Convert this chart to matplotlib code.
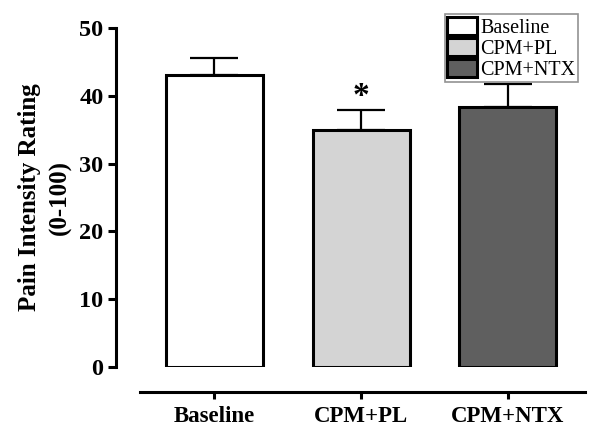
import matplotlib.pyplot as plt
import numpy as np

# values
groups = ['Baseline', 'CPM+PL', 'CPM+NTX']
means = [43.0, 35.0, 38.3]
sem_upper = [2.6, 2.9, 3.4]
bar_colors = ['#ffffff', '#d4d4d4', '#5f5f5f']
star_group = 'CPM+PL'

plt.rcParams['font.family'] = ['Liberation Serif', 'DejaVu Serif']

fig = plt.figure(figsize=(6.0, 4.37), dpi=100)
ax = fig.add_axes([116 / 600, 70 / 437, (585 - 116) / 600, (367 - 28) / 437])

x = np.arange(len(groups))
bars = ax.bar(x, means, width=0.66, color=bar_colors, edgecolor='black',
              linewidth=2.2, zorder=3, label=groups)
ax.errorbar(x, means, yerr=[np.zeros(len(means)), sem_upper], fmt='none',
            ecolor='black', elinewidth=1.6, capsize=17, capthick=1.6, zorder=2)

# significance marker
i = groups.index(star_group)
ax.text(x[i], means[i] + sem_upper[i] - 0.3, '*', ha='center', va='bottom',
        fontsize=24, fontweight='bold')

ax.set_xlim(-0.667, 2.524)
ax.set_ylim(0, 50)
ax.set_yticks([0, 10, 20, 30, 40, 50])

for s in ['top', 'right']:
    ax.spines[s].set_visible(False)
ax.spines['left'].set_linewidth(2.2)
ax.spines['bottom'].set_linewidth(2.2)
ax.spines['bottom'].set_position(('outward', 18))
ax.spines['bottom'].set_bounds(-0.503, 2.524)

ax.set_xticks(x)
ax.set_xticklabels(groups, fontsize=16.5, fontweight='bold')
ax.tick_params(axis='x', length=5, width=2.2, pad=5)
ax.tick_params(axis='y', length=6, width=2.2, pad=3, labelsize=17.5)
for lab in ax.get_yticklabels():
    lab.set_fontweight('bold')

ax.set_ylabel('Pain Intensity Rating\n(0-100)', fontsize=18, fontweight='bold',
              linespacing=1.45, labelpad=5)

handles = [bars[k] for k in range(len(groups))]
leg = ax.legend(handles, groups, loc='upper right', bbox_to_anchor=(0.985, 1.04),
                fontsize=14.5, frameon=True, fancybox=False, borderpad=0.12,
                labelspacing=0.0, handlelength=1.5, handleheight=1.0,
                handletextpad=0.15, borderaxespad=0.0)
leg.get_frame().set_edgecolor('#777777')
leg.get_frame().set_linewidth(1.2)

fig.savefig('out.png', dpi=100)
